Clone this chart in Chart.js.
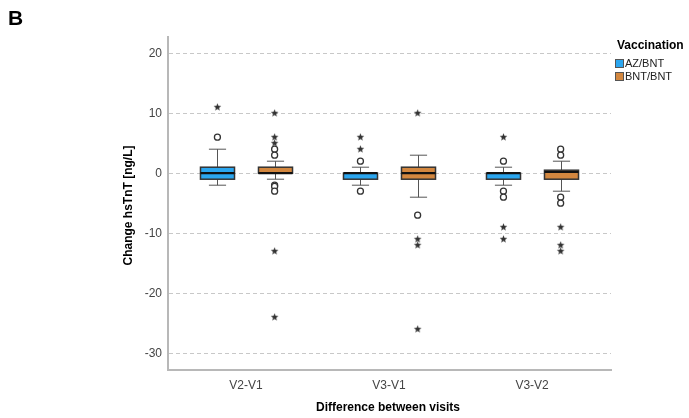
<!DOCTYPE html>
<html>
<head>
<meta charset="utf-8">
<script src="https://cdn.jsdelivr.net/npm/chart.js@4/dist/chart.umd.min.js"></script>
<style>
  html, body { margin: 0; padding: 0; background: #fff; }
  canvas { display: block; }
</style>
</head>
<body>
<canvas id="chart" width="689" height="418"></canvas>
<script>
// ========== DATA ==========
const categories = ["V2-V1", "V3-V1", "V3-V2"];
const yTicks = [-30, -20, -10, 0, 10, 20];

// AZ/BNT box stats per category
const azLow = [-2, -2, -2];
const azQ1 = [-1, -1, -1];
const azMedian = [0, 0, 0];
const azQ3 = [1, 0, 0];
const azHigh = [4, 1, 1];
const azCircles = [[6], [2, -3], [2, -3, -4]];
const azStars = [[11], [6, 4], [6, -9, -11]];

// BNT/BNT box stats per category
const bntLow = [-1, -4, -3];
const bntQ1 = [0, -1, -1];
const bntMedian = [0, 0, 0.2];
const bntQ3 = [1, 1, 0.5];
const bntHigh = [2, 3, 2];
const bntCircles = [[4, 3, -2, -2.2, -3], [-7], [4, 3, -4, -5]];
const bntStars = [[10, 6, 5, -13, -24], [10, -11, -12, -26], [-9, -12, -13]];

const groups = [
  { name: "AZ/BNT", color: "#2ba6ef", offset: -0.2, low: azLow, q1: azQ1, med: azMedian, q3: azQ3, high: azHigh, circles: azCircles, stars: azStars },
  { name: "BNT/BNT", color: "#d3873f", offset: 0.2, low: bntLow, q1: bntQ1, med: bntMedian, q3: bntQ3, high: bntHigh, circles: bntCircles, stars: bntStars },
];

// ========== UTILITAIRES ==========
const FONT = "'Liberation Sans', Arial, sans-serif";

function starImage() {
  const c = document.createElement("canvas");
  c.width = 9; c.height = 9;
  const g = c.getContext("2d");
  g.fillStyle = "#333";
  g.beginPath();
  for (let i = 0; i < 10; i++) {
    const r = i % 2 === 0 ? 4 : 1.7;
    const a = -Math.PI / 2 + (i * Math.PI) / 5;
    g.lineTo(4.5 + r * Math.cos(a), 4.5 + r * Math.sin(a));
  }
  g.closePath();
  g.fill();
  return c;
}

function points(group, key) {
  const out = [];
  group[key].forEach((vals, i) => vals.forEach((v) => out.push({ x: i + 1 + group.offset, y: v })));
  return out;
}

const star = starImage();
const datasets = [];
groups.forEach((g) => {
  datasets.push({
    label: g.name + " circles",
    data: points(g, "circles"),
    pointStyle: "circle",
    radius: 3,
    borderWidth: 1.3,
    borderColor: "#333",
    backgroundColor: "#fff",
  });
  datasets.push({
    label: g.name + " stars",
    data: points(g, "stars"),
    pointStyle: star,
    radius: 4,
  });
});

// ========== BOXPLOT PLUGIN ==========
const boxPlugin = {
  id: "boxes",
  beforeDatasetsDraw(chart) {
    const { ctx, scales: { x, y } } = chart;
    const unit = x.getPixelForValue(1) - x.getPixelForValue(0);
    const half = 0.119 * unit;
    const cap = 0.06 * unit;
    ctx.save();
    groups.forEach((g) => {
      categories.forEach((_, i) => {
        const cx = Math.round(x.getPixelForValue(i + 1 + g.offset)) + 0.5;
        const yLow = y.getPixelForValue(g.low[i]);
        const yHigh = y.getPixelForValue(g.high[i]);
        const yQ1 = y.getPixelForValue(g.q1[i]);
        const yQ3 = y.getPixelForValue(g.q3[i]);
        const yMed = y.getPixelForValue(g.med[i]);
        // whiskers
        ctx.strokeStyle = "#555";
        ctx.lineWidth = 1;
        ctx.beginPath();
        ctx.moveTo(cx, yHigh); ctx.lineTo(cx, yQ3);
        ctx.moveTo(cx, yQ1); ctx.lineTo(cx, yLow);
        ctx.moveTo(cx - cap, yHigh); ctx.lineTo(cx + cap, yHigh);
        ctx.moveTo(cx - cap, yLow); ctx.lineTo(cx + cap, yLow);
        ctx.stroke();
        // box
        ctx.fillStyle = g.color;
        ctx.fillRect(cx - half, yQ3, 2 * half, yQ1 - yQ3);
        ctx.strokeStyle = "#333";
        ctx.lineWidth = 1.5;
        ctx.strokeRect(cx - half, yQ3, 2 * half, yQ1 - yQ3);
        // median
        ctx.strokeStyle = "#111";
        ctx.lineWidth = 2.2;
        ctx.beginPath();
        ctx.moveTo(cx - half, yMed); ctx.lineTo(cx + half, yMed);
        ctx.stroke();
      });
    });
    ctx.restore();
  },
  afterDraw(chart) {
    const { ctx, chartArea } = chart;
    ctx.save();
    ctx.fillStyle = "#000";
    ctx.font = "bold 21px " + FONT;
    ctx.textAlign = "left";
    ctx.textBaseline = "alphabetic";
    ctx.fillText("B", 8, 25);

    ctx.font = "bold 12px " + FONT;
    ctx.textAlign = "center";
    ctx.textBaseline = "middle";
    ctx.fillText("Difference between visits", 388, 408);
    ctx.save();
    ctx.translate(129, (chartArea.top + chartArea.bottom) / 2 + 2);
    ctx.rotate(-Math.PI / 2);
    ctx.fillText("Change hsTnT [ng/L]", 0, 0);
    ctx.restore();

    // legend
    ctx.textAlign = "left";
    ctx.textBaseline = "alphabetic";
    ctx.fillText("Vaccination", 617, 49);
    ctx.font = "11px " + FONT;
    ctx.textBaseline = "middle";
    groups.forEach((g, i) => {
      const ly = 63 + i * 13;
      ctx.fillStyle = g.color;
      ctx.fillRect(615, ly - 4, 9, 9);
      ctx.strokeStyle = "#555";
      ctx.lineWidth = 1;
      ctx.strokeRect(615.5, ly - 3.5, 8, 8);
      ctx.fillStyle = "#222";
      ctx.fillText(g.name, 625, ly + 1);
    });
    ctx.restore();
  },
};

// ========== CHART ==========
new Chart(document.getElementById("chart"), {
  type: "scatter",
  data: { datasets },
  plugins: [boxPlugin],
  options: {
    responsive: false,
    animation: false,
    layout: { padding: { left: 0, top: 37, right: 78, bottom: 0 } },
    plugins: { legend: { display: false }, tooltip: { enabled: false } },
    scales: {
      x: {
        type: "linear",
        min: 0.4545,
        max: 3.552,
        afterFit: (s) => { s.height = 48; },
        afterBuildTicks: (s) => { s.ticks = categories.map((_, i) => ({ value: i + 1 })); },
        ticks: {
          padding: 8,
          color: "#444",
          font: { family: FONT, size: 12 },
          callback: (v) => categories[v - 1],
        },
        grid: { display: false, drawTicks: false },
        border: { color: "#b8b8b8", width: 2 },
      },
      y: {
        min: -32.8,
        max: 22.7,
        afterFit: (s) => { s.width = 168; },
        afterBuildTicks: (s) => { s.ticks = yTicks.map((v) => ({ value: v })); },
        ticks: {
          padding: 6,
          color: "#444",
          font: { family: FONT, size: 12 },
        },
        grid: {
          color: "#c8c8c8",
          drawTicks: false,
          lineWidth: 1,
        },
        border: { color: "#b8b8b8", width: 2, dash: [4, 3] },
      },
    },
  },
});
</script>
</body>
</html>
